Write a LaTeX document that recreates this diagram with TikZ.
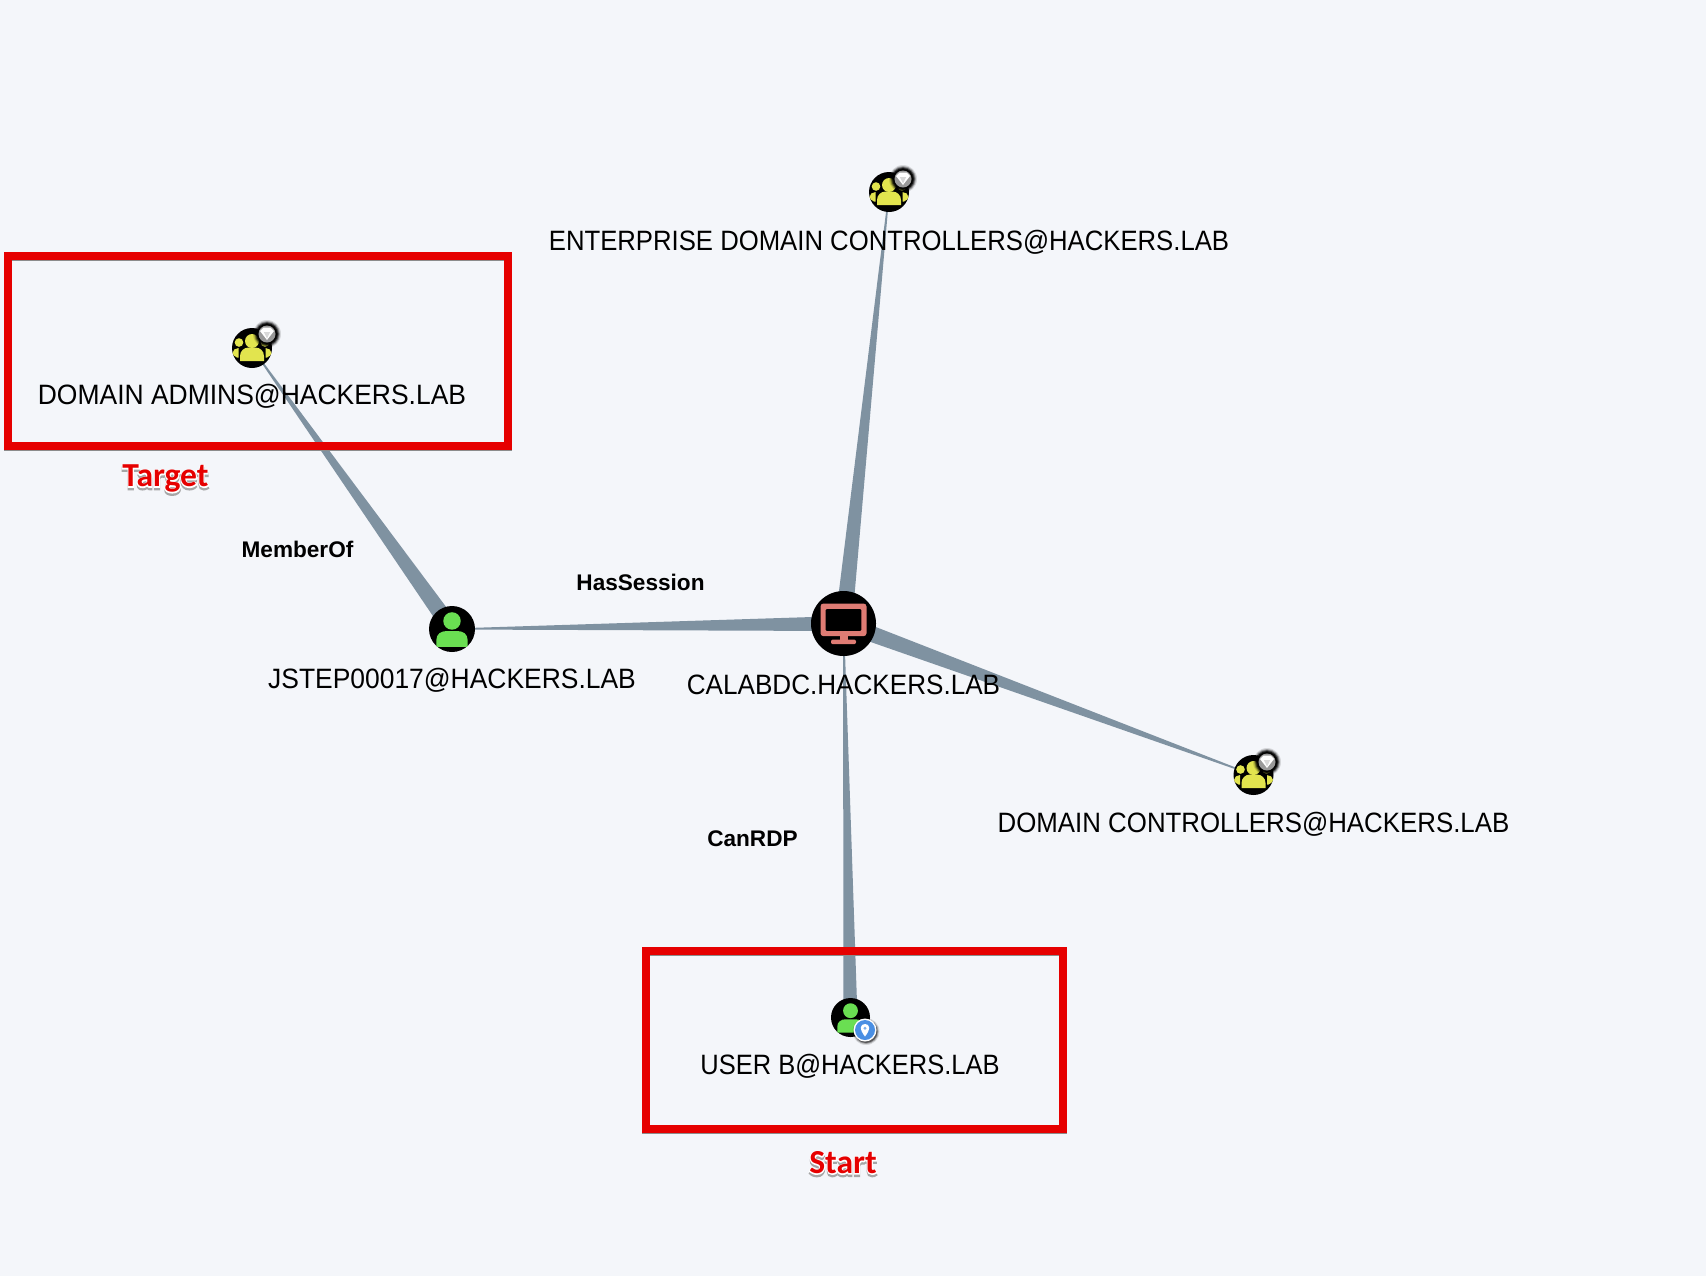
\documentclass[tikz,border=0pt]{standalone}
\usepackage{fontspec}
\usepackage{graphicx}
\setmainfont{Liberation Sans}
\newfontfamily\tagface{Carlito}[UprightFont=* Bold]
\newfontfamily\tagglow{Carlito}[UprightFont=* Bold,FakeBold=6]
\usetikzlibrary{calc,backgrounds}
\definecolor{canvas}{HTML}{F4F6FA}
\definecolor{edgeslate}{HTML}{7F92A1}
\definecolor{alertred}{HTML}{E60000}
\definecolor{usergreen}{HTML}{6ADF52}
\definecolor{groupyellow}{HTML}{E2E44E}
\definecolor{hostsalmon}{HTML}{DF7C74}
\definecolor{pinblue}{HTML}{4A8FE3}

% Tapered edge between two named nodes, with its width in px at either end.
\newcommand{\taperedge}[4]{%
  \fill[edgeslate]
    ($(#1)!#3*0.25pt!90:(#2)$) -- ($(#2)!#4*0.25pt!-90:(#1)$) --
    ($(#2)!#4*0.25pt!90:(#1)$) -- ($(#1)!#3*0.25pt!-90:(#2)$) -- cycle;}
% Bold red tag with a white halo and a faint drop shadow.
\newcommand{\haloed}[1]{%
  \leavevmode\rlap{\raisebox{-1.2pt}{\color{black!35}\tagglow #1}}%
  \rlap{\color{white}\tagglow #1}{\color{alertred}\tagface #1}}

\tikzset{
  x=0.5pt, y=-0.5pt,
  nodedisc/.style={circle,fill=black,inner sep=0pt,minimum size=#1*0.5pt},
  caption/.style={font=\fontsize{14}{16}\selectfont,inner sep=0pt,text=black},
  edgelabel/.style={font=\fontsize{11.3}{13}\selectfont\bfseries,inner sep=0pt,text=black},
  tag/.style={font=\fontsize{16.8}{18}\selectfont,inner sep=0pt},
  alertbox/.style={draw=alertred,line width=4pt,line join=miter},
  boxshadow/.style={draw=black!45,line width=4pt},
  % person glyph, drawn about the centre of its disc; the argument is the disc radius
  pics/person/.style={code={
    \fill[usergreen] (0,-0.35*#1) circle (0.38*#1);
    \fill[usergreen]
      (-0.62*#1,0.78*#1) .. controls (-0.68*#1,0.78*#1) and (-0.68*#1,0.74*#1) .. (-0.68*#1,0.68*#1)
      -- (-0.68*#1,0.48*#1)
      .. controls (-0.68*#1,0.22*#1) and (-0.48*#1,0.09*#1) .. (-0.25*#1,0.09*#1)
      -- (0.25*#1,0.09*#1)
      .. controls (0.48*#1,0.09*#1) and (0.68*#1,0.22*#1) .. (0.68*#1,0.48*#1)
      -- (0.68*#1,0.68*#1)
      .. controls (0.68*#1,0.74*#1) and (0.68*#1,0.78*#1) .. (0.62*#1,0.78*#1) -- cycle;
  }},
  % three-person group glyph in a 20 px disc
  pics/crowd/.style={code={
    \fill[groupyellow] (0,-7) circle (7);
    \fill[groupyellow] (-13,-5.5) circle (4.3);
    \fill[groupyellow] (13,-5.5) circle (4.3);
    \fill[groupyellow] (-13.5,0) .. controls (-16.5,0) and (-19.5,2) .. (-19.5,5)
      .. controls (-19,7) and (-17.5,8.5) .. (-15,9.5) -- (-13.5,9.5) -- cycle;
    \fill[groupyellow] (13.5,0) .. controls (16.5,0) and (19.5,2) .. (19.5,5)
      .. controls (19,7) and (17.5,8.5) .. (15,9.5) -- (13.5,9.5) -- cycle;
    \fill[groupyellow]
      (-12,13) -- (-12,8) .. controls (-12,3) and (-8,-0.5) .. (-3.5,-0.5)
      -- (3.5,-0.5) .. controls (8,-0.5) and (12,3) .. (12,8) -- (12,13) -- cycle;
  }},
  % soft dark ring carrying a white gem
  pics/gem/.style={code={
    \foreach \rr/\oo in {14/0.12,13/0.25,12/0.45,11/0.7,10/0.9}
      \fill[black,opacity=\oo] (0,0) circle (\rr);
    \fill[black!40] (0,0) circle (8.5);
    \fill[white] (-7,-3) -- (-3.5,-6.5) -- (3.5,-6.5) -- (7,-3) -- (0,6) -- cycle;
    \fill[black!15] (-3.2,-2) -- (3.2,-2) -- (0,4.5) -- cycle;
  }},
  % blue map-pin badge with a soft shadow
  pics/pinbadge/.style={code={
    \foreach \rr/\oo in {13.5/0.12,12.5/0.25,11.5/0.45}
      \fill[black,opacity=\oo] (1,1.5) circle (\rr);
    \fill[white] (0,0) circle (11.5);
    \fill[pinblue] (0,0) circle (10);
    \fill[white] (0,-6) .. controls (5,-6) and (6,-1) .. (0,6.5)
       .. controls (-6,-1) and (-5,-6) .. (0,-6) -- cycle;
    \fill[pinblue!70] (0,-1.8) circle (1.6);
  }},
  % desktop monitor
  pics/monitor/.style={code={
    \fill[hostsalmon,rounded corners=1.5pt] (-23,-20) rectangle (23,12.7);
    \fill[black,rounded corners=0.5pt] (-17.8,-14.3) rectangle (17.8,7.3);
    \fill[hostsalmon] (-4,12) rectangle (4,17);
    \fill[hostsalmon,rounded corners=1pt] (-12.5,16) rectangle (12.5,20.7);
  }},
}

\begin{document}
\begin{tikzpicture}
  \useasboundingbox (0,0) rectangle (1706,1276);

  % ---- graph nodes ----
  \node[nodedisc=40] (admins) at (252,348) {};
  \pic at (admins) {crowd};
  \pic at (267,334) {gem};

  \node[nodedisc=40] (entdc) at (889,192) {};
  \pic at (entdc) {crowd};
  \pic at (903,179) {gem};

  \node[nodedisc=40] (domdc) at (1253.5,775) {};
  \pic at (domdc) {crowd};
  \pic at (1267,762) {gem};

  \node[nodedisc=46] (jstep) at (452,629) {};
  \pic at (jstep) {person=23};

  \node[nodedisc=65] (host) at (843.5,623.5) {};
  \pic at (host) {monitor};

  \node[nodedisc=39] (userb) at (850.5,1017.5) {};
  \pic at (userb) {person=19.5};
  \pic at (865,1030) {pinbadge};

  % ---- tapered edges, kept underneath the discs ----
  \begin{scope}[on background layer]
    \fill[canvas] (0,0) rectangle (1706,1276);
    \taperedge{admins}{jstep}{1}{17}
    \taperedge{jstep}{host}{1}{15}
    \taperedge{entdc}{host}{1}{17}
    \taperedge{domdc}{host}{1}{17}
    \taperedge{host}{userb}{1}{14}
  \end{scope}

  % ---- node captions ----
  \node[caption] (cadmins) at (252,396) {\scalebox{0.945}[1]{DOMAIN ADMINS@HACKERS.LAB}};
  \node[caption] (centdc)  at (889,242.5) {\scalebox{0.918}[1]{ENTERPRISE DOMAIN CONTROLLERS@HACKERS.LAB}};
  \node[caption] (cjstep)  at (452,680) {\scalebox{0.944}[1]{JSTEP00017@HACKERS.LAB}};
  \node[caption] (chost)   at (843.5,685) {\scalebox{0.932}[1]{CALABDC.HACKERS.LAB}};
  \node[caption] (cdomdc)  at (1253.5,824.5) {\scalebox{0.923}[1]{DOMAIN CONTROLLERS@HACKERS.LAB}};
  \node[caption] (cuserb)  at (850,1066) {\scalebox{0.91}[1]{USER B@HACKERS.LAB}};

  % ---- edge labels ----
  \node[edgelabel] (lmember)  at (297.5,549) {MemberOf};
  \node[edgelabel] (lsession) at (640.5,582) {HasSession};
  \node[edgelabel] (lrdp)     at (752.5,839) {CanRDP};

  % ---- call-out frames and their tags ----
  \draw[boxshadow] (8,257) rectangle (508,447);
  \draw[alertbox]  (8,256) rectangle (508,446);
  \draw[boxshadow] (646,952) rectangle (1063,1130);
  \draw[alertbox]  (646,951) rectangle (1063,1129);
  \node[tag] (ttarget) at (165.5,480) {\haloed{Target}};
  \node[tag] (tstart)  at (843,1164)  {\haloed{Start}};
\end{tikzpicture}
\end{document}
